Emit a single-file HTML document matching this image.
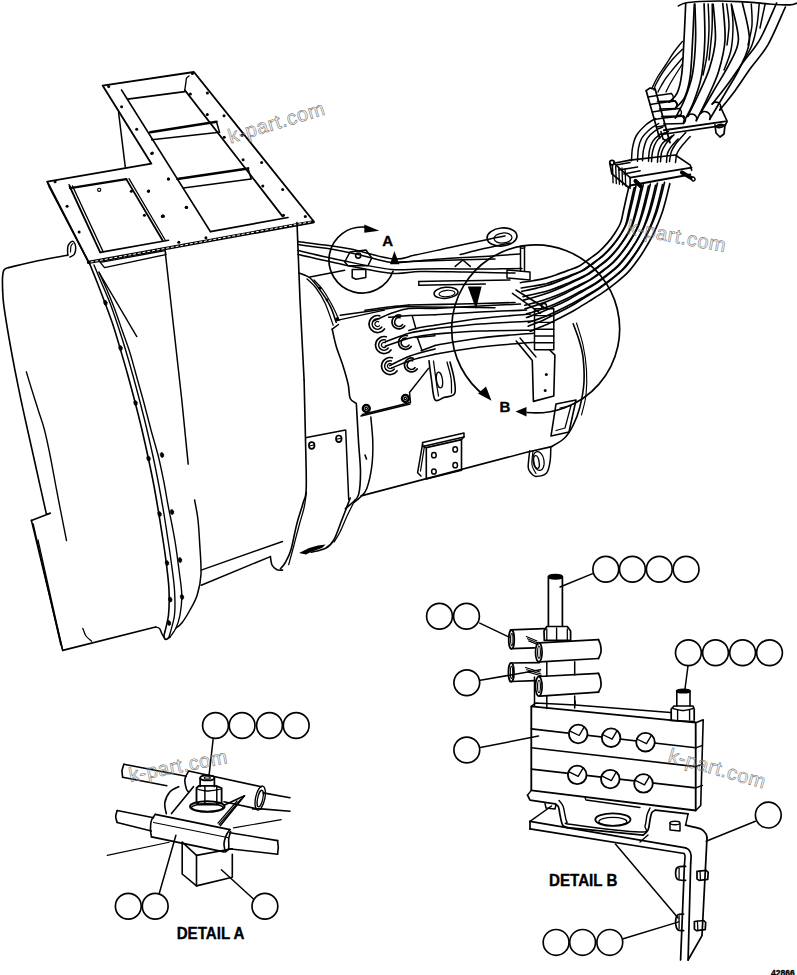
<!DOCTYPE html>
<html><head><meta charset="utf-8"><style>
html,body{margin:0;padding:0;background:#fff;width:797px;height:975px;overflow:hidden}
svg{display:block}
text{font-family:"Liberation Sans",sans-serif;fill:#000;stroke:#000;stroke-width:0.35px}
.wm{fill:none;stroke:#7a7a7a;stroke-width:0.6;font-weight:normal}
</style></head><body>
<svg width="797" height="975" viewBox="0 0 797 975" stroke-linecap="round" stroke-linejoin="round">
<circle cx="605.8" cy="569.3" r="12.9" fill="none" stroke="#000" stroke-width="1.67"/>
<circle cx="632.4" cy="569.3" r="12.9" fill="none" stroke="#000" stroke-width="1.67"/>
<circle cx="659.3" cy="569.3" r="12.9" fill="none" stroke="#000" stroke-width="1.67"/>
<circle cx="686.1" cy="569.3" r="12.9" fill="none" stroke="#000" stroke-width="1.67"/>
<path d="M592.6 573.6 L560 587" fill="none" stroke="#000" stroke-width="1.49"/>
<circle cx="688.4" cy="652.7" r="12.9" fill="none" stroke="#000" stroke-width="1.67"/>
<circle cx="715.5" cy="652.7" r="12.9" fill="none" stroke="#000" stroke-width="1.67"/>
<circle cx="742.6" cy="652.7" r="12.9" fill="none" stroke="#000" stroke-width="1.67"/>
<circle cx="769.5" cy="652.7" r="12.9" fill="none" stroke="#000" stroke-width="1.67"/>
<path d="M688 665.8 L684.8 690.5" fill="none" stroke="#000" stroke-width="1.49"/>
<circle cx="439.5" cy="616.2" r="12.9" fill="none" stroke="#000" stroke-width="1.67"/>
<circle cx="466.5" cy="616.2" r="12.9" fill="none" stroke="#000" stroke-width="1.67"/>
<path d="M479.8 623.1 L509.1 637.2" fill="none" stroke="#000" stroke-width="1.49"/>
<circle cx="466.8" cy="682.7" r="12.9" fill="none" stroke="#000" stroke-width="1.67"/>
<path d="M480.3 680.3 L540.5 669.8" fill="none" stroke="#000" stroke-width="1.49"/>
<circle cx="466.8" cy="750" r="12.9" fill="none" stroke="#000" stroke-width="1.67"/>
<path d="M480.3 747.6 L538.5 736" fill="none" stroke="#000" stroke-width="1.49"/>
<circle cx="768.3" cy="815.1" r="12.9" fill="none" stroke="#000" stroke-width="1.67"/>
<path d="M755.4 821.3 L706.1 841.3" fill="none" stroke="#000" stroke-width="1.49"/>
<circle cx="556.1" cy="942.4" r="12.9" fill="none" stroke="#000" stroke-width="1.67"/>
<circle cx="582.6" cy="942.4" r="12.9" fill="none" stroke="#000" stroke-width="1.67"/>
<circle cx="609.8" cy="942.4" r="12.9" fill="none" stroke="#000" stroke-width="1.67"/>
<path d="M623.2 938.7 L678.7 921.9" fill="none" stroke="#000" stroke-width="1.49"/>
<circle cx="215.5" cy="725.5" r="12.9" fill="none" stroke="#000" stroke-width="1.67"/>
<circle cx="242.1" cy="725.5" r="12.9" fill="none" stroke="#000" stroke-width="1.67"/>
<circle cx="269.5" cy="725.5" r="12.9" fill="none" stroke="#000" stroke-width="1.67"/>
<circle cx="296.2" cy="725.5" r="12.9" fill="none" stroke="#000" stroke-width="1.67"/>
<path d="M213.2 738.6 L209 775.9" fill="none" stroke="#000" stroke-width="1.49"/>
<circle cx="128.3" cy="906.3" r="12.9" fill="none" stroke="#000" stroke-width="1.67"/>
<circle cx="155.2" cy="906.3" r="12.9" fill="none" stroke="#000" stroke-width="1.67"/>
<path d="M159.3 893.2 L175.9 835.2" fill="none" stroke="#000" stroke-width="1.49"/>
<circle cx="264.9" cy="906.3" r="12.9" fill="none" stroke="#000" stroke-width="1.67"/>
<path d="M253.2 898.7 L221.4 869.7" fill="none" stroke="#000" stroke-width="1.49"/>
<text x="176.7" y="938.5" font-size="16" font-weight="bold" text-anchor="start" textLength="67.7" lengthAdjust="spacingAndGlyphs">DETAIL A</text>
<text x="549" y="885.6" font-size="16" font-weight="bold" text-anchor="start" textLength="68.4" lengthAdjust="spacingAndGlyphs">DETAIL B</text>
<text x="771" y="975.6" font-size="8.5" font-weight="bold" text-anchor="start" >42866</text>
<path d="M123.8 764.3 L186.3 776.2" fill="none" stroke="#000" stroke-width="1.61"/>
<path d="M122.6 777.2 L166.8 785.7" fill="none" stroke="#000" stroke-width="1.61"/>
<path d="M123.8 764.3 L121.9 770.7 L122.6 777.2" fill="none" stroke="#000" stroke-width="1.61"/>
<path d="M188.7 771 L261.2 786.7" fill="none" stroke="#000" stroke-width="1.61"/>
<path d="M188.7 771 C188 772.3 185.3 776.1 184.9 779.1 C184.5 782 185.7 786.4 186.3 788.6 C186.9 790.8 188.3 791.6 188.7 792.2" fill="none" stroke="#000" stroke-width="1.61"/>
<ellipse cx="260.2" cy="798.1" rx="4.6" ry="12.3" transform="rotate(12 260.2 798.1)" fill="none" stroke="#000" stroke-width="1.38"/>
<ellipse cx="260.2" cy="798.6" rx="2.6" ry="8.5" transform="rotate(12 260.2 798.6)" fill="none" stroke="#000" stroke-width="1.26"/>
<path d="M224 801.7 L257.3 808.9" fill="none" stroke="#000" stroke-width="1.61"/>
<path d="M263.3 792.9 L290 797.7" fill="none" stroke="#000" stroke-width="1.61"/>
<path d="M261.2 808.9 L290 811.3" fill="none" stroke="#000" stroke-width="1.61"/>
<path d="M252.6 808.9 L261.2 808.9" fill="none" stroke="#000" stroke-width="1.61"/>
<path d="M200.1 778 L200.1 786.5" fill="none" stroke="#000" stroke-width="1.72"/>
<path d="M214.4 778 L214.4 786.5" fill="none" stroke="#000" stroke-width="1.72"/>
<ellipse cx="207.3" cy="777.9" rx="7.1" ry="2.6" transform="rotate(0 207.3 777.9)" fill="none" stroke="#000" stroke-width="1.72"/>
<ellipse cx="207.3" cy="777.9" rx="3" ry="1.2" transform="rotate(0 207.3 777.9)" fill="none" stroke="#000" stroke-width="1.15"/>
<path d="M196.5 788 L199 785.8 L216 785.8 L221.6 788 L221.6 802.5 L216.8 804.5 L199 804.5 L196.5 802.5 L196.5 788" fill="none" stroke="#000" stroke-width="1.84"/>
<path d="M204.9 786.5 L204.9 804" fill="none" stroke="#000" stroke-width="1.49"/>
<path d="M216.8 786.5 L216.8 804" fill="none" stroke="#000" stroke-width="1.49"/>
<path d="M197 789 C198.7 789.3 203 791 207 791 C211 791 218.7 789.3 221 789" fill="none" stroke="#000" stroke-width="1.26"/>
<ellipse cx="207.3" cy="806.5" rx="17.2" ry="5.2" transform="rotate(0 207.3 806.5)" fill="none" stroke="#000" stroke-width="2.07"/>
<ellipse cx="207.3" cy="807.8" rx="15.8" ry="4" transform="rotate(0 207.3 807.8)" fill="none" stroke="#000" stroke-width="1.49"/>
<path d="M193.5 786.7 L171.5 813.6" fill="none" stroke="#000" stroke-width="1.61"/>
<path d="M244.5 795.8 L220.4 825.6" fill="none" stroke="#000" stroke-width="1.61"/>
<path d="M240.7 799.3 L219.2 824.4" fill="none" stroke="#000" stroke-width="1.26"/>
<path d="M237.1 801 L218 823.2" fill="none" stroke="#000" stroke-width="1.26"/>
<path d="M224 805.3 L244.5 795.8" fill="none" stroke="#000" stroke-width="1.61"/>
<path d="M178.7 786.7 C177.2 787.6 171.9 789.5 169.6 792.2 C167.3 794.9 165.4 799.3 164.8 802.9 C164.3 806.5 166 811.9 166.3 813.6" fill="none" stroke="#000" stroke-width="1.61"/>
<path d="M155.3 814.4 L229.9 829.6" fill="none" stroke="#000" stroke-width="1.84"/>
<path d="M151.5 836.8 L224 851.8" fill="none" stroke="#000" stroke-width="1.84"/>
<path d="M153.6 822.5 L227.5 837.5" fill="none" stroke="#000" stroke-width="1.26"/>
<path d="M155.3 814.4 C154.6 815.4 152 818.1 151.3 820.8 C150.5 823.5 150.5 827.7 150.5 830.3 C150.6 833 151.3 835.7 151.5 836.8" fill="none" stroke="#000" stroke-width="1.61"/>
<path d="M229.9 829.6 C229.3 830.5 227.3 832.8 226.3 835.1 C225.4 837.4 224.2 840.7 224 843.4 C223.8 846.2 225 850.4 225.2 851.8" fill="none" stroke="#000" stroke-width="1.61"/>
<path d="M230.6 831.5 C230.3 832.7 229.1 835.9 228.7 838.7 C228.4 841.5 229.2 846 228.7 848.2 C228.2 850.4 226.2 851.2 225.6 851.8" fill="none" stroke="#000" stroke-width="1.61"/>
<path d="M117.2 810.5 L153.6 817.7" fill="none" stroke="#000" stroke-width="1.61"/>
<path d="M117.2 822.5 L151.3 831" fill="none" stroke="#000" stroke-width="1.61"/>
<path d="M117.2 810.5 C116.9 811.6 115.7 814.8 115.7 816.7 C115.7 818.7 116.9 821.5 117.2 822.5" fill="none" stroke="#000" stroke-width="1.61"/>
<path d="M229.9 832.7 L277.6 840.6" fill="none" stroke="#000" stroke-width="1.61"/>
<path d="M228.7 848.7 L277.6 854.2" fill="none" stroke="#000" stroke-width="1.61"/>
<path d="M277.6 840.6 L278.3 847.3 L277.6 854.2" fill="none" stroke="#000" stroke-width="1.61"/>
<path d="M182.2 842.2 L182.2 874 L196.5 885.9 L232.3 877.3 L232.3 854.2" fill="none" stroke="#000" stroke-width="1.61"/>
<path d="M196.5 855.4 L196.5 885.9" fill="none" stroke="#000" stroke-width="1.61"/>
<path d="M182.2 842.2 L196.5 855.4 L232.3 848.7" fill="none" stroke="#000" stroke-width="1.61"/>
<path d="M107.2 855.4 L169.1 842.2" fill="none" stroke="#000" stroke-width="1.15"/>
<path d="M233.5 827.9 L281.2 819.6" fill="none" stroke="#000" stroke-width="1.15"/>
<path d="M88.3 261.5 L47.3 181.7 L151.4 163.7 L102.6 85.6 L193.9 72 L313 220.5" fill="none" stroke="#000" stroke-width="1.84"/>
<path d="M47.3 181.7 L49.2 187 L89.5 264" fill="none" stroke="#000" stroke-width="1.49"/>
<path d="M88.5 262.4 L313.2 221.8" stroke="#000" stroke-width="3.3" fill="none"/>
<path d="M91 262 L311 221.8" stroke="#fff" stroke-width="1.0" stroke-dasharray="2.2 2.6" fill="none"/>
<path d="M100.2 262.4 L165.3 250.6 L165.8 254.6 L104.5 267.6 L100.2 262.4" fill="none" stroke="#000" stroke-width="1.38"/>
<path d="M127.6 99.1 L184.8 91.6" fill="none" stroke="#000" stroke-width="1.72"/>
<path d="M121.6 90.1 L210.4 231.6" fill="none" stroke="#000" stroke-width="1.72"/>
<path d="M184.8 90.1 L282.7 216.6" fill="none" stroke="#000" stroke-width="1.72"/>
<path d="M210.4 231.6 L288 217.5" fill="none" stroke="#000" stroke-width="1.72"/>
<path d="M184.8 90.1 L186.5 78 L189 76" fill="none" stroke="#000" stroke-width="1.38"/>
<path d="M150.2 132.3 L216.5 121.7" fill="none" stroke="#000" stroke-width="2.53"/>
<path d="M151.7 139.8 L219.5 132.3" fill="none" stroke="#000" stroke-width="1.49"/>
<path d="M216.5 121.7 L219.5 132.3" fill="none" stroke="#000" stroke-width="1.49"/>
<path d="M177.3 178.9 L248.1 168.4" fill="none" stroke="#000" stroke-width="2.53"/>
<path d="M183.3 188 L251.1 178.9" fill="none" stroke="#000" stroke-width="1.49"/>
<path d="M248.1 168.4 L251.1 178.9" fill="none" stroke="#000" stroke-width="1.49"/>
<path d="M70.1 188.1 L126.3 179.1" fill="none" stroke="#000" stroke-width="2.30"/>
<path d="M69 184.5 L71 188.5" fill="none" stroke="#000" stroke-width="1.38"/>
<path d="M69.5 186 L100.2 252.4" fill="none" stroke="#000" stroke-width="1.84"/>
<path d="M72.5 186 L103 251.5" fill="none" stroke="#000" stroke-width="1.38"/>
<path d="M126.3 179.1 L162.5 240.3" fill="none" stroke="#000" stroke-width="1.84"/>
<path d="M129 178.6 L165 239.8" fill="none" stroke="#000" stroke-width="1.26"/>
<path d="M100.2 252.4 L168.5 240.3" fill="none" stroke="#000" stroke-width="1.61"/>
<path d="M118.6 112.7 L125.3 167.1" fill="none" stroke="#000" stroke-width="1.49"/>
<circle cx="55.1" cy="181.7" r="1.5" fill="#000"/>
<circle cx="67.1" cy="206.2" r="1.5" fill="#000"/>
<circle cx="79.1" cy="231.9" r="1.5" fill="#000"/>
<circle cx="131.3" cy="191.2" r="1.5" fill="#000"/>
<circle cx="144.4" cy="215.2" r="1.5" fill="#000"/>
<circle cx="148.4" cy="191.2" r="1.5" fill="#000"/>
<circle cx="168.5" cy="179.1" r="1.5" fill="#000"/>
<circle cx="152.4" cy="153" r="1.5" fill="#000"/>
<circle cx="163.5" cy="216.3" r="1.5" fill="#000"/>
<circle cx="186.6" cy="207.2" r="1.5" fill="#000"/>
<circle cx="108.7" cy="86.5" r="1.5" fill="#000"/>
<circle cx="192.4" cy="73.5" r="1.5" fill="#000"/>
<circle cx="121.6" cy="106.7" r="1.5" fill="#000"/>
<circle cx="136.7" cy="129.3" r="1.5" fill="#000"/>
<circle cx="151.7" cy="153.4" r="1.5" fill="#000"/>
<circle cx="207.4" cy="93.1" r="1.5" fill="#000"/>
<circle cx="224" cy="115.7" r="1.5" fill="#000"/>
<circle cx="242.1" cy="135.3" r="1.5" fill="#000"/>
<circle cx="261.6" cy="162.4" r="1.5" fill="#000"/>
<circle cx="282.7" cy="189.5" r="1.5" fill="#000"/>
<circle cx="305.3" cy="216.6" r="1.5" fill="#000"/>
<circle cx="168.3" cy="179" r="1.5" fill="#000"/>
<circle cx="148.7" cy="191" r="1.5" fill="#000"/>
<circle cx="162.3" cy="216.6" r="1.5" fill="#000"/>
<circle cx="186.4" cy="207.5" r="1.5" fill="#000"/>
<circle cx="178.8" cy="242.2" r="1.5" fill="#000"/>
<circle cx="205.9" cy="237.7" r="1.5" fill="#000"/>
<circle cx="190.4" cy="93.9" r="1.5" fill="#000"/>
<circle cx="207.3" cy="114.6" r="1.5" fill="#000"/>
<circle cx="224.2" cy="137.2" r="1.5" fill="#000"/>
<circle cx="243.1" cy="159.8" r="1.5" fill="#000"/>
<circle cx="262.8" cy="186.1" r="1.5" fill="#000"/>
<circle cx="283.5" cy="215.3" r="1.5" fill="#000"/>
<circle cx="162.8" cy="215.8" r="1.5" fill="#000"/>
<circle cx="186.2" cy="207.3" r="1.5" fill="#000"/>
<circle cx="99.2" cy="189.8" r="1.6" fill="none" stroke="#000" stroke-width="1.15"/>
<path d="M165.3 252.7 L181.8 400 L188.2 464.1" fill="none" stroke="#000" stroke-width="1.49"/>
<path d="M297 222.6 L300 300 L304.1 380" fill="none" stroke="#000" stroke-width="1.61"/>
<path d="M67.8 255.1 C61.5 256.3 39.8 260.4 30 262.5 C20.2 264.6 12.5 266.7 9 267.5" fill="none" stroke="#000" stroke-width="1.61"/>
<path d="M9 267.5 C8.2 267.9 5.1 268.2 4 270 C2.9 271.8 2.7 274.7 2.5 278 C2.3 281.3 2.6 288 2.6 290" fill="none" stroke="#000" stroke-width="1.61"/>
<path d="M2.6 290 C2.8 292.6 2.7 297.3 3.8 305.3 C4.9 313.3 7.1 327.1 9 338 C10.9 348.9 13 360.2 15 370.5 C17 380.8 18.9 390.1 21 400 C23.1 409.9 24.9 418 27.6 430 C30.3 442 33.9 458 37 472 C40.1 486 44.8 507.1 46.4 514.1" fill="none" stroke="#000" stroke-width="1.61"/>
<path d="M46.4 514.1 L50.2 513.3" fill="none" stroke="#000" stroke-width="1.38"/>
<path d="M50.2 513.3 L31.4 520.4" fill="none" stroke="#000" stroke-width="1.61"/>
<path d="M67.8 255.1 C67.8 253.6 67.2 248.3 68 246 C68.8 243.7 71.2 241.3 72.5 241.3 C73.8 241.3 75.2 243.9 75.5 246 C75.8 248.1 75.4 252.2 74.5 254 C73.6 255.8 70.8 256.5 70 257" fill="none" stroke="#000" stroke-width="1.49"/>
<path d="M70.5 252 C70.6 251 70.6 247.4 71 246 C71.4 244.6 72.7 243.9 73 243.5" fill="none" stroke="#000" stroke-width="1.15"/>
<path d="M31.4 520.4 L62.7 650.4" fill="none" stroke="#000" stroke-width="1.61"/>
<path d="M33.2 524 L60.8 645" fill="none" stroke="#000" stroke-width="1.26"/>
<path d="M38 540 L62.7 650.4" fill="none" stroke="#000" stroke-width="1.26"/>
<path d="M62.7 650.4 L155.6 627" fill="none" stroke="#000" stroke-width="1.61"/>
<path d="M82.8 628.3 C83.3 629.6 84.5 633.9 86 636 C87.5 638.1 90.7 640.3 91.6 641.2" fill="none" stroke="#000" stroke-width="1.26"/>
<path d="M26.3 371.8 C27.3 375.2 30.5 385.5 32.5 392 C34.5 398.5 36.5 404.7 38.5 411 C40.5 417.3 42.4 421.8 44.5 430 C46.6 438.2 48.7 448.3 51 460 C53.3 471.7 55.9 486.6 58.5 500 C61.1 513.4 65.2 533.8 66.5 540.5" fill="none" stroke="#000" stroke-width="1.38"/>
<path d="M89 262 C90.3 265.3 94.3 275.2 97 282 C99.7 288.8 102.3 295.8 105 303 C107.7 310.2 110.5 317.5 113 325 C115.5 332.5 117.6 339.8 120 348 C122.4 356.2 125.1 365.3 127.5 374 C129.9 382.7 132.1 390.7 134.5 400 C136.9 409.3 139.7 420.2 142 430 C144.3 439.8 146.5 449.7 148.5 459 C150.5 468.3 152.3 477 154 486 C155.7 495 157.2 504 158.7 513 C160.2 522 161.7 531.5 163 540 C164.3 548.5 165.4 555.7 166.4 564 C167.4 572.3 168.7 581.5 169 590 C169.3 598.5 169.4 607.3 168.5 615 C167.6 622.7 164.6 632.5 163.8 636" fill="none" stroke="#000" stroke-width="1.61"/>
<path d="M94 265 C95.3 268.2 99.3 277.7 102 284 C104.7 290.3 107.3 296 110 303 C112.7 310 115.5 318.5 118 326 C120.5 333.5 122.6 340 125 348 C127.4 356 130.1 365.3 132.5 374 C134.9 382.7 137.1 390.7 139.5 400 C141.9 409.3 144.7 420.2 147 430 C149.3 439.8 151.6 449.7 153.6 459 C155.6 468.3 157.3 477 159 486 C160.7 495 162.3 504 163.8 513 C165.3 522 166.7 531.5 168 540 C169.3 548.5 170.4 555.7 171.5 564 C172.6 572.3 174 581.5 174.5 590 C175 598.5 175.4 607.2 174.5 615 C173.6 622.8 169.9 633.3 169 637" fill="none" stroke="#000" stroke-width="1.38"/>
<path d="M99 272 C100.3 275 104.3 283.7 107 290 C109.7 296.3 112.5 303.3 115 310 C117.5 316.7 119.5 322.8 122 330 C124.5 337.2 127.5 345 130 353 C132.5 361 134.7 369.7 137 378 C139.3 386.3 141.7 394.3 144 403 C146.3 411.7 148.7 421.3 151 430 C153.3 438.7 155.9 446.7 158 455 C160.1 463.3 161.8 471.7 163.5 480 C165.2 488.3 166.6 497.5 168 505 C169.4 512.5 170.8 518.6 172 525 C173.2 531.4 174.2 536.1 175.4 543.6 C176.6 551.1 177.9 561.4 179 570 C180.1 578.6 181.6 587.5 181.8 595 C182 602.5 181 609.5 180 615 C179 620.5 177.7 624.3 176 628 C174.3 631.7 171 635.5 170 637" fill="none" stroke="#000" stroke-width="1.38"/>
<path d="M163.8 636 C164.1 636.6 164.5 639.3 165.5 639.5 C166.5 639.7 169.2 637.4 170 637" fill="none" stroke="#000" stroke-width="1.61"/>
<path d="M155.6 627 C156.2 627.2 158.4 627.3 159.5 628.5 C160.6 629.7 161.1 632.2 162 634 C162.9 635.8 164.5 638.2 165 639" fill="none" stroke="#000" stroke-width="1.49"/>
<ellipse cx="105.4" cy="302.8" rx="1.7" ry="2.6" transform="rotate(-15 105.4 302.8)" fill="#000" stroke="#000" stroke-width="0.57"/>
<ellipse cx="120.5" cy="348" rx="1.7" ry="2.6" transform="rotate(-15 120.5 348)" fill="#000" stroke="#000" stroke-width="0.57"/>
<ellipse cx="135.5" cy="403" rx="1.7" ry="2.6" transform="rotate(-15 135.5 403)" fill="#000" stroke="#000" stroke-width="0.57"/>
<ellipse cx="148.5" cy="458.5" rx="1.7" ry="2.6" transform="rotate(-15 148.5 458.5)" fill="#000" stroke="#000" stroke-width="0.57"/>
<ellipse cx="159.5" cy="514" rx="1.7" ry="2.6" transform="rotate(-15 159.5 514)" fill="#000" stroke="#000" stroke-width="0.57"/>
<ellipse cx="167" cy="563" rx="1.7" ry="2.6" transform="rotate(-15 167 563)" fill="#000" stroke="#000" stroke-width="0.57"/>
<ellipse cx="170.2" cy="599.5" rx="1.7" ry="2.6" transform="rotate(-15 170.2 599.5)" fill="#000" stroke="#000" stroke-width="0.57"/>
<ellipse cx="169" cy="623" rx="1.7" ry="2.6" transform="rotate(-15 169 623)" fill="#000" stroke="#000" stroke-width="0.57"/>
<ellipse cx="162" cy="455" rx="1.7" ry="2.6" transform="rotate(-15 162 455)" fill="#000" stroke="#000" stroke-width="0.57"/>
<ellipse cx="172" cy="512" rx="1.7" ry="2.6" transform="rotate(-15 172 512)" fill="#000" stroke="#000" stroke-width="0.57"/>
<ellipse cx="180" cy="560" rx="1.7" ry="2.6" transform="rotate(-15 180 560)" fill="#000" stroke="#000" stroke-width="0.57"/>
<ellipse cx="182" cy="597" rx="1.7" ry="2.6" transform="rotate(-15 182 597)" fill="#000" stroke="#000" stroke-width="0.57"/>
<path d="M99.1 272.7 L136.8 336.6" fill="none" stroke="#000" stroke-width="1.38"/>
<path d="M194.6 500 C195.2 503.3 197.2 512.7 198 520 C198.8 527.3 199.2 534.5 199.7 543.6 C200.2 552.7 201.4 565.8 201 574.4 C200.6 583 199 589.1 197.2 595 C195.4 600.9 192.6 605.3 190 610 C187.4 614.7 184.1 620 181.8 623 C179.5 626 177 627.2 176 628" fill="none" stroke="#000" stroke-width="1.49"/>
<path d="M201.2 570.1 L282.5 541.5" fill="none" stroke="#000" stroke-width="1.49"/>
<path d="M201.2 585.2 L270.4 556.6" fill="none" stroke="#000" stroke-width="1.49"/>
<path d="M304.1 380 C304.3 390 305.1 421.9 305.5 440 C305.9 458.1 306.6 478.2 306.2 488.7 C305.8 499.2 304.7 497.2 303.1 503 C301.6 508.8 298.9 515.7 296.9 523.6 C294.8 531.5 292.8 543.7 290.8 550.3 C288.8 556.9 286.7 559.9 285 563 C283.3 566.1 281.2 567.8 280.5 568.7" fill="none" stroke="#000" stroke-width="1.61"/>
<path d="M270.4 556.6 C270.7 558 270.9 562.8 272 565 C273.1 567.2 275.2 568.9 277 569.8 C278.8 570.6 281.6 570 282.5 570.1" fill="none" stroke="#000" stroke-width="1.61"/>
<path d="M306.5 492 C306.1 494.7 305.2 502.7 304 508 C302.8 513.3 301.2 517.8 299.5 524 C297.8 530.2 295.8 538.2 294 545 C292.2 551.8 289.6 561.3 288.7 564.6" fill="none" stroke="#000" stroke-width="1.26"/>
<path d="M306.6 437.6 L345.7 430.1 L348.7 499.4" fill="none" stroke="#000" stroke-width="1.49"/>
<ellipse cx="311.7" cy="445.5" rx="2.8" ry="3.3" transform="rotate(0 311.7 445.5)" fill="none" stroke="#000" stroke-width="1.72"/>
<ellipse cx="338.8" cy="438.8" rx="2.8" ry="3.3" transform="rotate(0 338.8 438.8)" fill="none" stroke="#000" stroke-width="1.72"/>
<path d="M309.5 446 L314 445" fill="none" stroke="#000" stroke-width="1.15"/>
<path d="M336.6 439.3 L341 438.3" fill="none" stroke="#000" stroke-width="1.15"/>
<path d="M356.4 404.6 C356.8 410.8 357.8 430.2 358.5 441.5 C359.2 452.8 360.5 463.4 360.5 472.3 C360.5 481.2 359.9 489.8 358.5 494.9 C357.1 500 354.2 500.7 352 503 C349.8 505.3 346.4 507.8 345.3 508.8" fill="none" stroke="#000" stroke-width="1.61"/>
<path d="M370.8 416.9 C371.1 421 372.6 433.3 372.8 441.5 C373 449.7 372.8 458.3 371.8 466.2 C370.8 474.1 368.6 483.6 366.7 488.7 C364.8 493.8 362.6 494.6 360.5 496.9 C358.4 499.2 355.1 501.6 354 502.5" fill="none" stroke="#000" stroke-width="1.49"/>
<path d="M350.3 498 C348.9 501.6 344.8 512.5 342 519.5 C339.2 526.5 336.5 535.2 333.8 540 C331.1 544.8 329.4 546.2 325.6 548.2 C321.9 550.2 313.7 551.6 311.3 552.3" fill="none" stroke="#000" stroke-width="1.61"/>
<path d="M355 500 C353.8 502.5 350 509.7 347.5 515 C345 520.3 342.2 527.5 340 532 C337.8 536.5 335 540.3 334 542" fill="none" stroke="#000" stroke-width="1.26"/>
<path d="M365 455 L366.5 459" fill="none" stroke="#000" stroke-width="1.61"/>
<path d="M299 553 L309 548 L318 545.5 L325.6 544.5 L322 548 L312 551.5 L306 554.4 Z" fill="#000"/>
<path d="M361.1 495.9 L526.7 452.3 L551.7 446.6" fill="none" stroke="#000" stroke-width="1.61"/>
<path d="M361 416 L410 404" fill="none" stroke="#000" stroke-width="1.38"/>
<path d="M573.2 323.8 C574.2 326.5 577.4 334.6 579 340 C580.6 345.4 582.1 349.2 582.9 356.2 C583.7 363.2 584.5 373.4 584 382 C583.5 390.6 581.5 400.6 579.7 407.8 C577.9 415 575.7 420.1 573.2 425.1 C570.7 430.1 568.2 434.4 564.6 438 C561 441.6 553.9 445.2 551.7 446.6" fill="none" stroke="#000" stroke-width="1.61"/>
<path d="M576.5 323 C577.6 326.7 581.3 337.2 583 345 C584.7 352.8 586 361.7 586.5 370 C587 378.3 586.8 387.5 586 395 C585.2 402.5 582.2 411.7 581.5 415" fill="none" stroke="#000" stroke-width="1.15"/>
<path d="M529.7 450.8 C529.5 453.6 528 463.6 528.2 467.3 C528.4 471 529.8 471.5 531 473 C532.2 474.5 533.2 476.3 535.7 476.4 C538.2 476.4 543.9 475.7 546.3 473.3 C548.7 470.9 549.2 466.2 550 462 C550.8 457.8 550.7 450.3 550.8 448" fill="none" stroke="#000" stroke-width="1.49"/>
<ellipse cx="536.5" cy="462" rx="2.6" ry="6.5" transform="rotate(-10 536.5 462)" fill="none" stroke="#000" stroke-width="1.38"/>
<ellipse cx="538.5" cy="461" rx="5.5" ry="9.5" transform="rotate(-10 538.5 461)" fill="none" stroke="#000" stroke-width="1.26"/>
<path d="M533 451 C532.8 453.3 531.5 461.2 532 465 C532.5 468.8 535.3 472.1 536 473.5" fill="none" stroke="#000" stroke-width="1.15"/>
<path d="M556 404 L576 400 L569 432 L551 436 L556 404" fill="none" stroke="#000" stroke-width="1.61"/>
<path d="M560 408 L571 405.5 L565 428 L556 430.5" fill="none" stroke="#000" stroke-width="1.26"/>
<path d="M426.3 447.6 L461.5 439.6 L461.5 470.2 L426.3 479 L426.3 447.6" fill="none" stroke="#000" stroke-width="1.61"/>
<path d="M422.6 442.6 L464 433.1 L464 437.1 L422.6 446.4 L422.6 442.6" fill="none" stroke="#000" stroke-width="1.49"/>
<path d="M461.5 439.6 L464 437.1" fill="none" stroke="#000" stroke-width="1.38"/>
<path d="M422.6 446.4 L426.3 447.6" fill="none" stroke="#000" stroke-width="1.38"/>
<path d="M422.6 443.9 L417.6 472.7 L421 476" fill="none" stroke="#000" stroke-width="1.49"/>
<path d="M424.5 446 L420.5 471" fill="none" stroke="#000" stroke-width="1.26"/>
<ellipse cx="433.9" cy="455.2" rx="2.3" ry="2.6" transform="rotate(0 433.9 455.2)" fill="none" stroke="#000" stroke-width="1.49"/>
<ellipse cx="455.2" cy="449.4" rx="2.3" ry="2.6" transform="rotate(0 455.2 449.4)" fill="none" stroke="#000" stroke-width="1.49"/>
<ellipse cx="433.9" cy="471.5" rx="2.3" ry="2.6" transform="rotate(0 433.9 471.5)" fill="none" stroke="#000" stroke-width="1.49"/>
<ellipse cx="455.2" cy="465.2" rx="2.3" ry="2.6" transform="rotate(0 455.2 465.2)" fill="none" stroke="#000" stroke-width="1.49"/>
<path d="M299 273 C300.8 273.8 306.5 275.1 310 278 C313.5 280.9 316.7 285.4 320.1 290.1 C323.5 294.8 327.5 300.8 330.2 306.1 C332.9 311.5 335.2 319.5 336.2 322.2" fill="none" stroke="#000" stroke-width="1.61"/>
<path d="M307 279 C308.5 280.5 313 284 316 288 C319 292 322.1 296.8 325 303 C327.9 309.2 331.8 321.5 333.2 325.2" fill="none" stroke="#000" stroke-width="1.26"/>
<path d="M314 280 C315.5 281.7 320 285.8 323 290 C326 294.2 329.3 300 332 305 C334.7 310 338 317.7 339.2 320.2" fill="none" stroke="#000" stroke-width="1.26"/>
<circle cx="320" cy="288" r="1.6" fill="#000"/>
<circle cx="337.2" cy="319.2" r="2" fill="#000"/>
<circle cx="327" cy="300" r="1.4" fill="#000"/>
<path d="M340.2 315.2 L406.4 306.1" fill="none" stroke="#000" stroke-width="1.49"/>
<path d="M338.2 320.2 L384.4 310.2" fill="none" stroke="#000" stroke-width="1.38"/>
<path d="M332.2 329.2 C332.9 332.1 334.4 340.1 336.2 346.3 C338 352.5 341.2 360 343.2 366.4 C345.2 372.8 347 379 348.2 384.4 C349.4 389.8 348.8 395.3 350.2 398.5 C351.6 401.7 355.3 402.7 356.3 403.5" fill="none" stroke="#000" stroke-width="1.61"/>
<path d="M332.2 329.2 L338.5 324.5" fill="none" stroke="#000" stroke-width="1.49"/>
<path d="M362.3 414.5 L410.5 402.5 L409.5 392.5 L428.5 368.4" fill="none" stroke="#000" stroke-width="1.49"/>
<circle cx="366.3" cy="408.5" r="3.4" fill="none" stroke="#000" stroke-width="2.53"/>
<circle cx="405.4" cy="398.5" r="3.4" fill="none" stroke="#000" stroke-width="2.53"/>
<circle cx="366.3" cy="408.5" r="1.2" fill="none" stroke="#000" stroke-width="1.15"/>
<circle cx="405.4" cy="398.5" r="1.2" fill="none" stroke="#000" stroke-width="1.15"/>
<path d="M379.7 315.8 A8.5 8.5 0 1 0 384.5 328.9" fill="none" stroke="#000" stroke-width="1.7"/>
<path d="M378.9 318.9 A5.27 5.27 0 1 0 381.8 327.0" fill="none" stroke="#000" stroke-width="1.5"/>
<path d="M378.8 321.8 A2.55 2.55 0 1 0 379.5 325.6" fill="none" stroke="#000" stroke-width="1.1"/>
<path d="M400.8 315.2 A7 7 0 1 0 404.7 326.0" fill="none" stroke="#000" stroke-width="1.7"/>
<path d="M400.1 317.8 A4.34 4.34 0 1 0 402.6 324.5" fill="none" stroke="#000" stroke-width="1.5"/>
<path d="M386.2 336.8 A8.5 8.5 0 1 0 391.0 349.9" fill="none" stroke="#000" stroke-width="1.7"/>
<path d="M385.4 339.9 A5.27 5.27 0 1 0 388.3 348.0" fill="none" stroke="#000" stroke-width="1.5"/>
<path d="M385.3 342.8 A2.55 2.55 0 1 0 386.0 346.6" fill="none" stroke="#000" stroke-width="1.1"/>
<path d="M407.3 335.7 A7 7 0 1 0 411.2 346.5" fill="none" stroke="#000" stroke-width="1.7"/>
<path d="M406.6 338.3 A4.34 4.34 0 1 0 409.1 345.0" fill="none" stroke="#000" stroke-width="1.5"/>
<path d="M392.2 357.8 A8.5 8.5 0 1 0 397.0 370.9" fill="none" stroke="#000" stroke-width="1.7"/>
<path d="M391.4 360.9 A5.27 5.27 0 1 0 394.3 369.0" fill="none" stroke="#000" stroke-width="1.5"/>
<path d="M391.3 363.8 A2.55 2.55 0 1 0 392.0 367.6" fill="none" stroke="#000" stroke-width="1.1"/>
<path d="M413.3 358.2 A7 7 0 1 0 417.2 369.0" fill="none" stroke="#000" stroke-width="1.7"/>
<path d="M412.6 360.8 A4.34 4.34 0 1 0 415.1 367.5" fill="none" stroke="#000" stroke-width="1.5"/>
<path d="M365 310.3 C368.3 309.8 377.7 308.4 385 307.5 C392.3 306.6 404.9 305.4 408.9 305" fill="none" stroke="#000" stroke-width="1.61"/>
<path d="M373.8 320.8 C376.8 319.5 386.1 315.1 392 313 C397.9 310.9 401.7 309.2 408.9 308.5 C416.1 307.8 430.6 308.5 435 308.5" fill="none" stroke="#000" stroke-width="1.61"/>
<path d="M388.7 317.3 C392.2 317 402.3 315.9 410 315.5 C417.7 315.1 430.8 314.8 435 314.7" fill="none" stroke="#000" stroke-width="1.61"/>
<path d="M408.9 330.5 C410.8 330 415.6 328.4 420 327.5 C424.4 326.6 432.5 325.6 435 325.2" fill="none" stroke="#000" stroke-width="1.61"/>
<path d="M385.2 341.9 C389.3 340.4 401.7 335.2 410 333 C418.3 330.8 430.8 329.4 435 328.7" fill="none" stroke="#000" stroke-width="1.61"/>
<path d="M385.2 346.3 C389.3 344.9 401.7 340.1 410 338 C418.3 335.9 430.8 334.7 435 334" fill="none" stroke="#000" stroke-width="1.61"/>
<path d="M415.9 337.5 L435 335.7" fill="none" stroke="#000" stroke-width="1.61"/>
<path d="M421.2 350.7 L435 345.4" fill="none" stroke="#000" stroke-width="1.61"/>
<path d="M389.6 365.6 C393 364 402.4 358.8 410 356 C417.6 353.2 430.8 350.1 435 348.9" fill="none" stroke="#000" stroke-width="1.61"/>
<path d="M391.3 368.2 C394.8 366.8 404.7 362.3 412 360 C419.3 357.7 431.2 355.2 435 354.2" fill="none" stroke="#000" stroke-width="1.61"/>
<path d="M412.4 316.4 L415.9 328.7" fill="none" stroke="#000" stroke-width="1.49"/>
<path d="M417.7 338.4 L422.1 350.7" fill="none" stroke="#000" stroke-width="1.49"/>
<path d="M429 360.7 C429.4 363.9 430.5 373.5 431.5 380 C432.5 386.5 432.9 396.9 435 399.8 C437.1 402.7 440.7 398.5 444 397.5 C447.3 396.5 452.9 396.9 454.6 393.7 C456.3 390.4 454.8 383.3 454 378 C453.2 372.7 450.7 364.7 450 362" fill="none" stroke="#000" stroke-width="1.61"/>
<path d="M433.5 361 C433.9 364.2 435.2 374.2 436 380 C436.8 385.8 438.1 393.3 438.5 396" fill="none" stroke="#000" stroke-width="1.26"/>
<path d="M447 362 C447.7 364.7 450.2 372.8 451 378 C451.8 383.2 451.4 390.5 451.5 393" fill="none" stroke="#000" stroke-width="1.26"/>
<ellipse cx="439.5" cy="380" rx="3" ry="8" transform="rotate(-8 439.5 380)" fill="none" stroke="#000" stroke-width="1.26"/>
<ellipse cx="502" cy="237" rx="15" ry="9" transform="rotate(-5 502 237)" fill="none" stroke="#000" stroke-width="1.61"/>
<ellipse cx="503" cy="238" rx="9" ry="5" transform="rotate(-5 503 238)" fill="none" stroke="#000" stroke-width="1.26"/>
<path d="M678.4 5.9 C679.5 5.4 681.7 3.7 685.3 3 C688.9 2.3 694.4 1.8 700 1.5 C705.6 1.2 712.4 1 718.8 1 C725.2 1 732.5 1.3 738.5 1.6 C744.5 1.9 750.1 2.2 755 2.6 C759.9 3 762.2 3.5 768 3.9 C773.8 4.3 784.9 5.1 789.7 4.9 C794.5 4.8 795.8 3.3 797 3" fill="none" stroke="#000" stroke-width="1.61"/>
<path d="M685.7 3.8 C685.4 9.8 684.7 28 684 39.8 C683.3 51.5 682.9 65.5 681.7 74.4 C680.6 83.3 679.2 88.6 677.1 93.2 C675 97.9 670.5 100.7 669.2 102.2" fill="none" stroke="#000" stroke-width="1.67"/>
<path d="M694.3 4.2 C694 10.2 693.3 28.3 692.6 40.2 C691.9 52.1 691.5 66.1 690.3 75.6 C689 85 687.3 91.4 684.9 96.8 C682.5 102.1 677.3 105.9 675.8 107.8" fill="none" stroke="#000" stroke-width="1.67"/>
<path d="M669.2 102.2 A4.3 4.3 0 0 1 675.8 107.8" fill="none" stroke="#000" stroke-width="1.67"/>
<path d="M694.9 4.1 C695 10 696 28.2 695.6 39.8 C695.2 51.5 694.3 64.3 692.5 74.2 C690.7 84.1 687.6 92 684.7 99.3 C681.9 106.6 676.9 114.8 675.4 117.9" fill="none" stroke="#000" stroke-width="1.67"/>
<path d="M704.1 3.9 C704.2 10 705.2 28.2 704.8 40.2 C704.4 52.1 703.4 65.4 701.5 75.8 C699.6 86.2 696.3 95 693.3 102.7 C690.3 110.4 685.2 118.8 683.6 122.1" fill="none" stroke="#000" stroke-width="1.67"/>
<path d="M675.4 117.9 A4.6 4.6 0 0 1 683.6 122.1" fill="none" stroke="#000" stroke-width="1.67"/>
<path d="M713.2 4.3 C713.6 10.2 716 29 715.4 39.7 C714.8 50.4 712.2 59.5 709.4 68.6 C706.6 77.6 702.2 86.1 698.6 94 C695 102 689.5 112.7 687.7 116.4" fill="none" stroke="#000" stroke-width="1.67"/>
<path d="M722.8 3.7 C723.2 9.8 725.7 29 725 40.3 C724.3 51.6 721.5 61.8 718.6 71.4 C715.7 81 711.1 89.8 707.4 98 C703.7 106.2 698.2 116.8 696.3 120.6" fill="none" stroke="#000" stroke-width="1.67"/>
<path d="M687.7 116.4 A4.8 4.8 0 0 1 696.3 120.6" fill="none" stroke="#000" stroke-width="1.67"/>
<path d="M731.6 5 C732.7 10.8 738.7 30.2 738.4 39.8 C738.1 49.4 733.9 54.6 730 62.7 C726.2 70.7 720.2 79.7 715.2 88.2 C710.3 96.7 702.8 109.5 700.3 113.7" fill="none" stroke="#000" stroke-width="1.67"/>
<path d="M742.4 3 C743.6 9.2 749.8 29.5 749.4 40.2 C749 50.9 744.1 58.4 740 67.3 C735.9 76.3 729.8 85.1 724.8 93.8 C719.7 102.4 712.2 115 709.7 119.3" fill="none" stroke="#000" stroke-width="1.67"/>
<path d="M700.3 113.7 A5.5 5.5 0 0 1 709.7 119.3" fill="none" stroke="#000" stroke-width="1.67"/>
<path d="M776.6 3 C773.8 9.1 765.4 29.8 759.8 39.6 C754.2 49.5 748.5 54.6 743.1 62.2 C737.7 69.8 732.3 78.2 727.1 85.1 C722 92.1 714.7 100.9 712.2 104" fill="none" stroke="#000" stroke-width="1.67"/>
<path d="M785.4 7 C782.5 13.2 773.9 34.2 768.2 44.4 C762.4 54.5 756.5 60.1 750.9 67.8 C745.3 75.5 740.1 83.8 734.9 90.9 C729.7 97.9 722.3 106.8 719.8 110" fill="none" stroke="#000" stroke-width="1.67"/>
<path d="M712.2 104.0 A4.8 4.8 0 0 1 719.8 110.0" fill="none" stroke="#000" stroke-width="1.67"/>
<path d="M708.2 4 C708.3 8.3 709.2 21.5 709 30 C708.8 38.5 708 47.5 707 55 C706 62.5 703.7 71.7 703 75" fill="none" stroke="#000" stroke-width="1.49"/>
<path d="M726.7 4 C727.1 7.5 729 18.2 729 25 C729 31.8 727.3 41.7 727 45" fill="none" stroke="#000" stroke-width="1.49"/>
<path d="M731.3 4 C731.6 7.5 733 17.3 733 25 C733 32.7 732.5 42.5 731 50 C729.5 57.5 725.2 66.7 724 70" fill="none" stroke="#000" stroke-width="1.49"/>
<path d="M751.3 4 C751.4 7.5 752.5 18.2 752 25 C751.5 31.8 748.7 41.7 748 45" fill="none" stroke="#000" stroke-width="1.49"/>
<path d="M759.2 4 C758.8 7.5 758.2 18.2 757 25 C755.8 31.8 754.3 38.8 752 45 C749.7 51.2 744.5 59.2 743 62" fill="none" stroke="#000" stroke-width="1.49"/>
<path d="M765.1 4 L760 28" fill="none" stroke="#000" stroke-width="1.49"/>
<path d="M712.2 4 C712.2 8.3 712.5 20.7 712 30 C711.5 39.3 709.5 55 709 60" fill="none" stroke="#000" stroke-width="1.49"/>
<path d="M682.4 41.4 C681 43.2 676.8 48.1 674 52 C671.2 55.9 668.4 60.7 665.6 65 C662.8 69.3 659.3 74 657 78 C654.7 82 652.7 86.9 651.8 88.7" fill="none" stroke="#000" stroke-width="1.38"/>
<path d="M682.4 49.3 C680.7 51.1 675.2 56.2 672 60 C668.8 63.8 665.7 68 663 72 C660.3 76 657.5 81 656 84 C654.5 87 654.3 89 654 90" fill="none" stroke="#000" stroke-width="1.38"/>
<path d="M682.4 58 C681 59.7 676.7 64.7 674 68 C671.3 71.3 668.3 74.7 666 78 C663.7 81.3 661.3 85.7 660 88 C658.7 90.3 658.3 91.3 658 92" fill="none" stroke="#000" stroke-width="1.38"/>
<path d="M682.4 64 C681.3 65.7 678.1 70.7 676 74 C673.9 77.3 671.7 81 670 84 C668.3 87 666.7 90.7 666 92" fill="none" stroke="#000" stroke-width="1.26"/>
<path d="M646.2 90.7 L659.6 138.3" fill="none" stroke="#000" stroke-width="1.72"/>
<path d="M655.2 89.2 L670 142.7" fill="none" stroke="#000" stroke-width="1.72"/>
<path d="M646.2 90.7 L650 88 L655.2 89.2" fill="none" stroke="#000" stroke-width="1.61"/>
<path d="M648 97 L657.4 95.5" fill="none" stroke="#000" stroke-width="1.49"/>
<path d="M657.4 95.5 L671.4 93.5" fill="none" stroke="#000" stroke-width="1.49"/>
<path d="M671.4 93.5 Q675.4 97.5 671.4 101.0" fill="none" stroke="#000" stroke-width="1.4"/>
<path d="M657.4 101.5 L671.4 101" fill="none" stroke="#000" stroke-width="1.38"/>
<path d="M650.1 104.5 L659.4 103" fill="none" stroke="#000" stroke-width="1.49"/>
<path d="M659.4 103 L675.4 101" fill="none" stroke="#000" stroke-width="1.49"/>
<path d="M675.4 101.0 Q679.4 105.0 675.4 108.5" fill="none" stroke="#000" stroke-width="1.4"/>
<path d="M659.4 109 L675.4 108.5" fill="none" stroke="#000" stroke-width="1.38"/>
<path d="M652.2 112 L661.5 110.5" fill="none" stroke="#000" stroke-width="1.49"/>
<path d="M661.5 110.5 L679.5 108.5" fill="none" stroke="#000" stroke-width="1.49"/>
<path d="M679.5 108.5 Q683.5 112.5 679.5 116.0" fill="none" stroke="#000" stroke-width="1.4"/>
<path d="M661.5 116.5 L679.5 116" fill="none" stroke="#000" stroke-width="1.38"/>
<path d="M654.3 119.5 L663.6 118" fill="none" stroke="#000" stroke-width="1.49"/>
<path d="M663.6 118 L683.6 116" fill="none" stroke="#000" stroke-width="1.49"/>
<path d="M683.6 116.0 Q687.6 120.0 683.6 123.5" fill="none" stroke="#000" stroke-width="1.4"/>
<path d="M663.6 124 L683.6 123.5" fill="none" stroke="#000" stroke-width="1.38"/>
<path d="M656.4 127 L665.7 125.5" fill="none" stroke="#000" stroke-width="1.49"/>
<path d="M658.5 134.5 L667.7 133" fill="none" stroke="#000" stroke-width="1.49"/>
<path d="M663.9 130.2 L725.3 121.4" fill="none" stroke="#000" stroke-width="1.95"/>
<path d="M665.1 134 L725.3 125.2" fill="none" stroke="#000" stroke-width="1.72"/>
<path d="M720.3 106.4 L727.2 121.4 L725.3 125.2" fill="none" stroke="#000" stroke-width="1.61"/>
<path d="M715 124.9 L716 133 L720 137 L724 134 L725 125.2" fill="none" stroke="#000" stroke-width="1.72"/>
<ellipse cx="720" cy="126" rx="3.5" ry="1.6" transform="rotate(-10 720 126)" fill="none" stroke="#000" stroke-width="1.49"/>
<path d="M661 131.5 L663 139 L668 141.5 L672 136" fill="none" stroke="#000" stroke-width="1.61"/>
<path d="M637.5 161.2 C637.7 159.1 637.8 152.3 638.4 148.6 C639.1 144.8 639.7 141.8 641.6 138.5 C643.5 135.3 647.1 131.7 650 129.2 C652.8 126.7 657.2 124.5 658.7 123.5" fill="none" stroke="#000" stroke-width="1.49"/>
<path d="M631.5 160.8 C631.7 158.5 631.7 151.7 632.6 147.4 C633.4 143.2 634.2 139.2 636.4 135.5 C638.7 131.7 642.9 127.6 646 124.8 C649.2 121.9 653.8 119.5 655.3 118.5" fill="none" stroke="#000" stroke-width="1.49"/>
<path d="M648.5 161.3 C648.6 159.5 648.8 153.9 649.4 150.6 C650.1 147.3 651 144.1 652.6 141.6 C654.1 139 656.6 136.9 658.7 135.4 C660.8 134 664.1 133.2 665.2 132.8" fill="none" stroke="#000" stroke-width="1.49"/>
<path d="M642.5 160.7 C642.7 158.8 642.7 153.1 643.6 149.4 C644.4 145.7 645.5 141.6 647.4 138.4 C649.4 135.3 652.7 132.4 655.3 130.6 C657.8 128.7 661.6 127.8 662.8 127.2" fill="none" stroke="#000" stroke-width="1.49"/>
<path d="M657.5 162.3 C657.6 160.7 657.7 155.6 658.4 152.7 C659.1 149.7 660.1 146.8 661.5 144.6 C662.9 142.4 665.2 140.7 666.9 139.3 C668.6 138 670.8 137 671.5 136.6" fill="none" stroke="#000" stroke-width="1.49"/>
<path d="M651.5 161.7 C651.7 160 651.8 154.7 652.6 151.3 C653.4 147.9 654.7 144.2 656.5 141.4 C658.2 138.6 661.1 136.3 663.1 134.7 C665.1 133 667.6 132 668.5 131.4" fill="none" stroke="#000" stroke-width="1.49"/>
<path d="M666.5 162.3 C666.6 160.9 666.7 156.3 667.4 153.8 C668.1 151.4 669.2 149.6 670.5 147.6 C671.8 145.7 674 143.4 675.2 142 C676.5 140.6 677.6 139.6 678.1 139.1" fill="none" stroke="#000" stroke-width="1.49"/>
<path d="M660.5 161.7 C660.7 160.1 660.8 155.1 661.6 152.2 C662.4 149.3 664 146.7 665.5 144.4 C667 142 669.4 139.6 670.8 138 C672.2 136.4 673.4 135.4 673.9 134.9" fill="none" stroke="#000" stroke-width="1.49"/>
<path d="M675.5 162.5 C675.7 161.1 676 156.4 676.8 154 C677.7 151.5 679.1 149.7 680.5 147.7 C681.9 145.7 683.6 143.8 685.3 142 C686.9 140.1 689.4 137.4 690.2 136.5" fill="none" stroke="#000" stroke-width="1.49"/>
<path d="M669.5 161.5 C669.8 159.9 670.2 154.9 671.2 152 C672.2 149.2 673.9 146.6 675.5 144.3 C677.1 142 679 140 680.7 138 C682.4 136.1 684.9 133.4 685.8 132.5" fill="none" stroke="#000" stroke-width="1.49"/>
<path d="M610 163.8 L611.9 173.9 L628.9 187.7" fill="none" stroke="#000" stroke-width="1.84"/>
<path d="M613.8 163.2 L630.1 160.1" fill="none" stroke="#000" stroke-width="1.61"/>
<path d="M630.1 160.1 L675.3 155 L690.3 165.1 L691.6 170.1" fill="none" stroke="#000" stroke-width="1.72"/>
<path d="M613.8 163.2 L630.1 177.6" fill="none" stroke="#000" stroke-width="1.49"/>
<path d="M630.1 177.6 L691.6 167.6" fill="none" stroke="#000" stroke-width="1.84"/>
<path d="M630.1 185.5 L690.3 174.5" fill="none" stroke="#000" stroke-width="1.84"/>
<path d="M630.1 177.6 L630.1 188.3" fill="none" stroke="#000" stroke-width="1.61"/>
<path d="M612.5 165.5 L613.1 182.7" fill="none" stroke="#000" stroke-width="1.38"/>
<path d="M615.7 166.3 L616.3 183.5" fill="none" stroke="#000" stroke-width="1.38"/>
<path d="M618.8 167.1 L619.4 184.3" fill="none" stroke="#000" stroke-width="1.38"/>
<path d="M622 167.9 L622.6 185.1" fill="none" stroke="#000" stroke-width="1.38"/>
<path d="M625.1 168.7 L625.7 185.9" fill="none" stroke="#000" stroke-width="1.38"/>
<path d="M616 165.1 L630.1 162.6" fill="none" stroke="#000" stroke-width="1.49"/>
<path d="M618.8 170.1 L637.6 167" fill="none" stroke="#000" stroke-width="1.49"/>
<path d="M623.8 173.9 L640.2 170.7" fill="none" stroke="#000" stroke-width="1.49"/>
<circle cx="612" cy="162.6" r="2.3" fill="none" stroke="#000" stroke-width="1.72"/>
<path d="M635.5 181 L640.5 186" fill="none" stroke="#000" stroke-width="4.14"/>
<path d="M682 172.5 L693 179" fill="none" stroke="#000" stroke-width="4.14"/>
<ellipse cx="693.3" cy="179" rx="1.6" ry="2" transform="rotate(-30 693.3 179)" fill="#fff" stroke="#000" stroke-width="1.38"/>
<path d="M628.9 186.6 C628.5 188.6 627 194.7 626.1 198.8 C625.2 202.9 624.3 207 623.4 211 C622.5 215 622.1 219.1 620.6 222.8 C619.2 226.5 617 229.9 614.8 233.3 C612.7 236.6 610.2 239.9 607.6 242.9 C604.9 246 602.1 248.9 599.1 251.6 C596 254.3 592.6 256.6 589.3 259 C586 261.4 582.9 264 579.4 265.9 C575.8 267.8 571.9 269 568.1 270.4 C564.2 271.9 560.3 273.4 556.5 274.7 C552.6 276.1 548.7 277.4 544.7 278.4 C540.8 279.4 536.8 280 532.7 280.7 C528.6 281.4 522.5 282.3 520.4 282.7" fill="none" stroke="#000" stroke-width="1.67"/>
<path d="M634.2 187.8 C633.7 189.8 632.3 195.9 631.4 200 C630.4 204.1 629.6 208.1 628.6 212.2 C627.7 216.3 627.2 220.7 625.7 224.7 C624.1 228.7 621.7 232.6 619.4 236.2 C617 239.8 614.4 243.2 611.7 246.4 C608.9 249.7 605.8 252.8 602.7 255.6 C599.5 258.5 596 260.9 592.5 263.4 C589 265.9 585.7 268.7 581.9 270.7 C578.2 272.7 574 273.9 570 275.5 C566.1 277 562.2 278.5 558.2 279.8 C554.2 281.2 550.2 282.6 546.1 283.7 C542 284.7 537.8 285.3 533.6 286 C529.5 286.7 523.3 287.7 521.3 288" fill="none" stroke="#000" stroke-width="1.67"/>
<path d="M636 185.7 C635.5 187.9 634 194.4 633 198.7 C632 203 631 207.3 629.9 211.5 C628.9 215.7 628.1 220 626.5 223.9 C624.9 227.8 622.7 231.5 620.4 235.1 C618.1 238.7 615.5 242.2 612.8 245.6 C610.1 248.9 607.3 252.1 604.1 255 C600.9 257.9 597.4 260.4 593.9 263 C590.4 265.6 587.1 268.3 583.3 270.4 C579.6 272.6 575.5 274 571.6 275.7 C567.6 277.5 563.6 279.3 559.5 280.9 C555.5 282.5 551.4 284.1 547.3 285.3 C543.2 286.6 539 287.6 534.8 288.6 C530.5 289.6 524.1 290.9 521.9 291.4" fill="none" stroke="#000" stroke-width="1.67"/>
<path d="M641.3 187 C640.8 189.1 639.3 195.6 638.3 199.9 C637.2 204.2 636.3 208.5 635.2 212.9 C634 217.2 633.2 221.7 631.5 225.9 C629.8 230.1 627.4 234.2 624.9 238 C622.5 241.8 619.9 245.5 617 249 C614.1 252.5 611.1 255.9 607.8 258.9 C604.4 262 600.7 264.6 597.1 267.3 C593.5 270 589.9 272.9 586 275.1 C582.1 277.3 577.8 278.9 573.7 280.7 C569.6 282.5 565.6 284.3 561.5 285.9 C557.4 287.6 553.1 289.2 548.9 290.5 C544.6 291.8 540.3 292.8 536 293.8 C531.7 294.9 525.2 296.2 523.1 296.6" fill="none" stroke="#000" stroke-width="1.67"/>
<path d="M643.2 184.9 C642.6 187.2 641 194 639.9 198.5 C638.8 203 637.8 207.6 636.5 212 C635.2 216.4 634.1 220.8 632.4 225 C630.6 229.2 628.3 233.1 625.9 237 C623.5 240.8 620.9 244.6 618.1 248.2 C615.3 251.7 612.4 255.2 609.1 258.4 C605.9 261.5 602.1 264.2 598.5 267 C594.8 269.8 591.2 272.6 587.3 274.9 C583.4 277.3 579.2 279 575 281.1 C570.9 283.1 566.8 285.2 562.6 287.1 C558.4 288.9 554.1 290.7 549.8 292.3 C545.5 293.8 541.2 295.2 536.8 296.5 C532.4 297.8 525.7 299.5 523.5 300.1" fill="none" stroke="#000" stroke-width="1.67"/>
<path d="M648.4 186.1 C647.9 188.4 646.3 195.3 645.2 199.8 C644.1 204.4 643 208.9 641.7 213.5 C640.4 218 639.2 222.7 637.4 227.1 C635.5 231.5 633 235.7 630.5 239.8 C628 243.9 625.3 247.8 622.4 251.5 C619.4 255.3 616.3 259 612.9 262.3 C609.4 265.6 605.5 268.4 601.7 271.3 C597.9 274.2 594.2 277.1 590.1 279.6 C586.1 282 581.6 283.8 577.4 285.9 C573.2 288 569.1 290.1 564.8 292 C560.5 293.9 556.1 295.7 551.7 297.3 C547.3 299 542.8 300.3 538.4 301.7 C533.9 303 527.1 304.7 524.9 305.3" fill="none" stroke="#000" stroke-width="1.67"/>
<path d="M650.3 184.1 C649.7 186.4 648.1 193.7 646.8 198.4 C645.6 203.1 644.5 207.9 643 212.5 C641.6 217.1 640.2 221.7 638.3 226.1 C636.3 230.5 634 234.7 631.5 238.8 C629 242.9 626.3 247 623.4 250.8 C620.5 254.6 617.6 258.4 614.2 261.7 C610.8 265.1 606.8 268 603 271 C599.2 273.9 595.4 276.9 591.3 279.4 C587.2 282 582.8 284.1 578.6 286.4 C574.3 288.7 570 291.1 565.7 293.2 C561.3 295.3 556.9 297.3 552.4 299.2 C548 301.1 543.5 302.8 538.9 304.4 C534.4 306 527.3 308 525 308.8" fill="none" stroke="#000" stroke-width="1.67"/>
<path d="M655.5 185.3 C655 187.7 653.3 194.9 652.1 199.7 C650.9 204.5 649.7 209.3 648.2 214.1 C646.7 218.9 645.2 223.7 643.2 228.3 C641.2 232.8 638.7 237.3 636.1 241.6 C633.5 245.9 630.7 250 627.7 254 C624.7 258 621.5 262 618 265.6 C614.4 269.1 610.3 272.2 606.4 275.2 C602.4 278.3 598.4 281.4 594.2 284 C590 286.7 585.5 288.8 581.1 291.1 C576.8 293.5 572.5 295.9 568 298.1 C563.6 300.2 559 302.3 554.5 304.2 C549.9 306.1 545.4 307.9 540.7 309.5 C536.1 311.1 529 313.2 526.6 313.9" fill="none" stroke="#000" stroke-width="1.67"/>
<path d="M657.4 183.2 C656.8 185.7 655.1 193.3 653.8 198.3 C652.5 203.2 651.2 208.2 649.6 213 C648 217.8 646.2 222.6 644.1 227.2 C642 231.8 639.6 236.3 637 240.7 C634.4 245 631.6 249.3 628.7 253.4 C625.7 257.5 622.7 261.5 619.2 265.1 C615.7 268.7 611.6 271.8 607.6 275 C603.6 278.1 599.6 281.2 595.3 284 C591.1 286.7 586.5 289.1 582.1 291.7 C577.7 294.3 573.3 297 568.8 299.4 C564.2 301.8 559.6 304 555 306.1 C550.4 308.3 545.8 310.4 541.1 312.3 C536.3 314.2 529 316.6 526.6 317.5" fill="none" stroke="#000" stroke-width="1.67"/>
<path d="M662.6 184.5 C662 187 660.3 194.6 659 199.6 C657.7 204.7 656.4 209.8 654.7 214.7 C653.1 219.7 651.2 224.6 649 229.4 C646.9 234.2 644.3 238.9 641.7 243.4 C639 247.9 636.1 252.3 633 256.6 C629.9 260.8 626.7 265.1 623.1 268.9 C619.4 272.7 615.1 275.9 611 279.2 C606.8 282.5 602.6 285.6 598.3 288.5 C593.9 291.3 589.3 293.8 584.8 296.4 C580.3 299 575.9 301.7 571.3 304.1 C566.7 306.6 562 308.8 557.3 311 C552.6 313.2 547.9 315.4 543.1 317.3 C538.2 319.2 530.8 321.7 528.4 322.5" fill="none" stroke="#000" stroke-width="1.67"/>
<path d="M664.5 182.4 C663.9 185 662.1 193 660.7 198.1 C659.3 203.3 657.9 208.5 656.2 213.5 C654.4 218.5 652.3 223.5 650 228.3 C647.7 233.1 645.2 237.9 642.6 242.5 C639.9 247.1 637 251.7 634 256 C630.9 260.3 627.9 264.7 624.2 268.5 C620.6 272.3 616.4 275.6 612.2 278.9 C608 282.3 603.7 285.4 599.3 288.5 C594.9 291.5 590.2 294.2 585.6 297 C581 299.9 576.5 302.9 571.9 305.5 C567.2 308.2 562.4 310.6 557.6 313 C552.8 315.5 548.1 318 543.2 320.2 C538.3 322.4 530.7 325.2 528.2 326.2" fill="none" stroke="#000" stroke-width="1.67"/>
<path d="M669.8 183.7 C669.1 186.3 667.3 194.3 665.9 199.5 C664.5 204.8 663.1 210.2 661.2 215.3 C659.4 220.5 657.2 225.6 654.9 230.6 C652.6 235.6 650 240.5 647.2 245.2 C644.5 250 641.6 254.6 638.4 259.1 C635.2 263.6 631.9 268.2 628.1 272.2 C624.4 276.2 619.9 279.7 615.6 283.1 C611.3 286.6 606.9 289.8 602.3 292.9 C597.8 296 593.1 298.7 588.5 301.6 C583.8 304.5 579.3 307.5 574.5 310.2 C569.8 312.9 564.9 315.4 560 317.9 C555.2 320.3 550.4 322.9 545.4 325.1 C540.4 327.4 532.7 330.2 530.2 331.2" fill="none" stroke="#000" stroke-width="1.67"/>
<path d="M298 241.6 C302.5 242.2 316.2 243.8 325 245 C333.8 246.2 339.4 246.8 350.7 249.1 C362 251.4 382.2 257.9 392.9 258.9 C403.6 259.9 405.5 257 415 255.1 C424.5 253.2 437.9 250.1 450 247.5 C462.1 244.9 478.6 241.3 487.8 239.4 C497 237.5 502.1 236.6 505 236" fill="none" stroke="#000" stroke-width="1.49"/>
<path d="M298 244.6 C303.5 245.3 320.7 247.3 331 249 C341.3 250.7 349.9 252.7 360 255 C370.1 257.3 382.2 261.6 391.4 262.6 C400.6 263.6 404.4 261.9 415 261.1 C425.6 260.3 441.7 258.9 455 258 C468.3 257.1 484.2 256.4 495 255.7 C505.8 255 515.8 254.3 520 254" fill="none" stroke="#000" stroke-width="1.49"/>
<path d="M298 250.6 C305.8 252.3 329.1 258 344.7 261.1 C360.3 264.2 378.8 268.1 391.4 269.4 C403.9 270.7 408.6 269 420 268.9 C431.4 268.8 447.5 268.9 460 268.9 C472.5 268.9 484.7 269 495 268.9 C505.3 268.8 517.5 268.6 522 268.5" fill="none" stroke="#000" stroke-width="1.49"/>
<path d="M298 254.4 C305.8 256.1 329.1 261.8 344.7 264.9 C360.3 268 378.8 272.1 391.4 273.2 C403.9 274.3 408.6 271.8 420 271.6 C431.4 271.4 447.5 271.8 460 272 C472.5 272.2 485.8 272.5 495 272.7 C504.2 272.9 511.7 272.9 515 273" fill="none" stroke="#000" stroke-width="1.49"/>
<path d="M399 262 C405.8 261.8 424 261 440 260.5 C456 260 485.8 259.2 495 258.9" fill="none" stroke="#000" stroke-width="1.49"/>
<path d="M460.2 254.5 C463.5 253.7 474.2 250.9 480 249.5 C485.8 248.1 490 247.4 495 246.3 C500 245.2 507.5 243.6 510 243" fill="none" stroke="#000" stroke-width="1.49"/>
<path d="M310 277 L344.7 270.2" fill="none" stroke="#000" stroke-width="1.49"/>
<path d="M418.8 281.5 C425.7 281.4 447.3 281 460 280.8 C472.7 280.6 486.7 280.3 495 280.2 C503.3 280.1 507.5 280 510 280" fill="none" stroke="#000" stroke-width="1.49"/>
<path d="M418.8 285.2 L485.3 284" fill="none" stroke="#000" stroke-width="1.49"/>
<path d="M395 306.6 C404.2 306.7 433.3 307 450 307.2 C466.7 307.4 487.5 307.7 495 307.8" fill="none" stroke="#000" stroke-width="1.49"/>
<path d="M418.8 281.5 L418.8 285.2" fill="none" stroke="#000" stroke-width="1.38"/>
<ellipse cx="446" cy="292.8" rx="12" ry="5.5" transform="rotate(-5 446 292.8)" fill="none" stroke="#000" stroke-width="1.49"/>
<ellipse cx="447" cy="293.5" rx="8" ry="3.2" transform="rotate(-5 447 293.5)" fill="none" stroke="#000" stroke-width="1.15"/>
<path d="M455.2 266.4 L462.8 260 L470.3 266.4" fill="none" stroke="#000" stroke-width="1.49"/>
<path d="M467.8 286.5 L481.6 286.5 L476 309 Z" fill="#000"/>
<path d="M352.2 269.4 L365.8 269.4 L365.8 277.5 L356 279.2 L352.2 277.5 L352.2 269.4" fill="none" stroke="#000" stroke-width="1.49"/>
<path d="M344.7 262 L350 252 L366 250 L371.8 258 L368 265.7 L348 265.7 L344.7 262" fill="none" stroke="#000" stroke-width="1.49"/>
<circle cx="358.2" cy="255.6" r="2.6" fill="none" stroke="#000" stroke-width="1.61"/>
<path d="M408.9 305 C417.4 304.8 442.3 304.4 460 304 C477.7 303.6 505.8 302.8 515 302.5" fill="none" stroke="#000" stroke-width="1.55"/>
<path d="M435 308.5 C442.5 308.1 465.8 306.7 480 306 C494.2 305.3 513.8 304.4 520.5 304.1" fill="none" stroke="#000" stroke-width="1.55"/>
<path d="M435 314.7 C442.5 314.2 464.8 312.8 480 312 C495.2 311.2 518.8 310.4 526.5 310.1" fill="none" stroke="#000" stroke-width="1.55"/>
<path d="M435 325.2 C442.5 324.1 464.1 320.4 480 318.5 C495.9 316.6 522.1 314.8 530.5 314.1" fill="none" stroke="#000" stroke-width="1.55"/>
<path d="M435 328.7 C442.5 327.9 463.8 325.3 480 324 C496.2 322.7 523.8 321.6 532.5 321.1" fill="none" stroke="#000" stroke-width="1.55"/>
<path d="M435 334 C442.5 333.5 463.8 331.6 480 331 C496.2 330.4 523.8 330.3 532.5 330.2" fill="none" stroke="#000" stroke-width="1.55"/>
<path d="M435 345.4 C442.5 344.2 463.6 340 480 338 C496.4 336 524.6 334 533.5 333.2" fill="none" stroke="#000" stroke-width="1.55"/>
<path d="M435 354.2 C442.5 353 463.4 349 480 347 C496.6 345 525.4 343 534.5 342.2" fill="none" stroke="#000" stroke-width="1.55"/>
<path d="M534.5 308.8 L553.8 308.8 L553.8 349.7 L534.5 349.7 L534.5 308.8" fill="none" stroke="#000" stroke-width="1.49"/>
<path d="M534.5 315.6 L553.8 315.6" fill="none" stroke="#000" stroke-width="1.38"/>
<path d="M534.5 322.4 L553.8 322.4" fill="none" stroke="#000" stroke-width="1.38"/>
<path d="M534.5 329.2 L553.8 329.2" fill="none" stroke="#000" stroke-width="1.38"/>
<path d="M534.5 336 L553.8 336" fill="none" stroke="#000" stroke-width="1.38"/>
<path d="M534.5 342.8 L553.8 342.8" fill="none" stroke="#000" stroke-width="1.38"/>
<path d="M512.4 293.3 L540.5 313.3" fill="none" stroke="#000" stroke-width="1.49"/>
<path d="M516 290 L545 308" fill="none" stroke="#000" stroke-width="1.49"/>
<circle cx="544" cy="306" r="2.6" fill="none" stroke="#000" stroke-width="1.49"/>
<path d="M520.5 247.1 L520.5 271.2" fill="none" stroke="#000" stroke-width="1.49"/>
<path d="M524.5 247.1 L524.5 271.2" fill="none" stroke="#000" stroke-width="1.49"/>
<ellipse cx="522.5" cy="247" rx="2.2" ry="1.2" transform="rotate(0 522.5 247)" fill="none" stroke="#000" stroke-width="1.38"/>
<path d="M507 270 L530 272 L530 280 L507 278 L507 270" fill="none" stroke="#000" stroke-width="1.49"/>
<path d="M516.2 341.1 L532.3 360.5 L533.4 401.4 L553.8 396 L554.9 355.1 L549.5 349.7" fill="none" stroke="#000" stroke-width="1.61"/>
<path d="M520 338 L536 357" fill="none" stroke="#000" stroke-width="1.38"/>
<circle cx="546.3" cy="374.5" r="1.5" fill="#000"/>
<circle cx="545.2" cy="390.6" r="1.5" fill="#000"/>
<path d="M365.4 227.2 A33 33 0 1 0 393.0 271.3" fill="none" stroke="#000" stroke-width="1.7"/>
<path d="M364.3 224.6 L379.3 230.7 L364.3 232.7 Z" fill="#000"/>
<path d="M394.4 251.1 L399.4 264.2 L390.0 264.2 Z" fill="#000"/>
<text x="382.2" y="245.6" font-size="15" font-weight="bold" text-anchor="start" >A</text>
<path d="M527.0 412.5 A84 84 0 1 0 485.2 396.1" fill="none" stroke="#000" stroke-width="1.7"/>
<path d="M491.5 400.7 L478 393.5 L486 386.5 Z" fill="#000"/>
<path d="M515.5 411.5 L526.5 407 L526.5 416.5 Z" fill="#000"/>
<text x="499.5" y="412" font-size="15" font-weight="bold" text-anchor="start" >B</text>
<path d="M548.4 577 L548.4 626" fill="none" stroke="#000" stroke-width="1.72"/>
<path d="M562.4 577 L562.4 626" fill="none" stroke="#000" stroke-width="1.72"/>
<ellipse cx="555.4" cy="576.8" rx="7" ry="2.2" transform="rotate(0 555.4 576.8)" fill="#000" stroke="#000" stroke-width="1.61"/>
<path d="M544.3 640.4 L544 631 L546.8 626.5 L567.3 626.5 L570.6 631 L570.6 640.4 L544.3 640.4" fill="none" stroke="#000" stroke-width="1.72"/>
<path d="M556.6 628 L556.6 640" fill="none" stroke="#000" stroke-width="1.38"/>
<path d="M546.8 629 L546.8 640" fill="none" stroke="#000" stroke-width="1.26"/>
<path d="M567.3 629 L567.3 640" fill="none" stroke="#000" stroke-width="1.26"/>
<path d="M510.5 629.8 L544.3 628.6" fill="none" stroke="#000" stroke-width="1.72"/>
<path d="M511.5 648.6 L534.5 647.8" fill="none" stroke="#000" stroke-width="1.72"/>
<ellipse cx="511.5" cy="639.6" rx="2.8" ry="9.4" transform="rotate(0 511.5 639.6)" fill="none" stroke="#000" stroke-width="1.72"/>
<ellipse cx="511.8" cy="639.6" rx="1.2" ry="6" transform="rotate(0 511.8 639.6)" fill="none" stroke="#000" stroke-width="1.15"/>
<path d="M539.4 642.9 L598.5 639.6" fill="none" stroke="#000" stroke-width="1.72"/>
<path d="M540.2 661.8 L598.5 658.5" fill="none" stroke="#000" stroke-width="1.72"/>
<path d="M598.5 639.6 C598.8 640.5 600.1 642.9 600.5 645 C600.9 647.1 601.3 649.8 601 652 C600.7 654.2 598.9 657.4 598.5 658.5" fill="none" stroke="#000" stroke-width="1.72"/>
<ellipse cx="538.8" cy="652.2" rx="3.3" ry="9.5" transform="rotate(0 538.8 652.2)" fill="none" stroke="#000" stroke-width="1.72"/>
<ellipse cx="539" cy="652.2" rx="1.4" ry="6" transform="rotate(0 539 652.2)" fill="none" stroke="#000" stroke-width="1.15"/>
<path d="M546.8 661.8 L546.8 676" fill="none" stroke="#000" stroke-width="1.49"/>
<path d="M574.7 661.8 L574.7 675" fill="none" stroke="#000" stroke-width="1.49"/>
<path d="M510.5 663 L539.4 662.6" fill="none" stroke="#000" stroke-width="1.72"/>
<path d="M511.5 681.5 L535.3 680.7" fill="none" stroke="#000" stroke-width="1.72"/>
<ellipse cx="511.2" cy="672.4" rx="2.8" ry="9.4" transform="rotate(0 511.2 672.4)" fill="none" stroke="#000" stroke-width="1.72"/>
<ellipse cx="511.5" cy="672.4" rx="1.2" ry="6" transform="rotate(0 511.5 672.4)" fill="none" stroke="#000" stroke-width="1.15"/>
<path d="M539.4 676.5 L598.5 673.3" fill="none" stroke="#000" stroke-width="1.72"/>
<path d="M540.2 696.2 L598.5 692.1" fill="none" stroke="#000" stroke-width="1.72"/>
<path d="M598.5 673.3 C598.8 674.2 600.1 676.9 600.5 679 C600.9 681.1 601.3 683.8 601 686 C600.7 688.2 598.9 691.1 598.5 692.1" fill="none" stroke="#000" stroke-width="1.72"/>
<ellipse cx="538.8" cy="686.4" rx="3.3" ry="9.8" transform="rotate(0 538.8 686.4)" fill="none" stroke="#000" stroke-width="1.72"/>
<ellipse cx="539" cy="686.4" rx="1.4" ry="6.2" transform="rotate(0 539 686.4)" fill="none" stroke="#000" stroke-width="1.15"/>
<path d="M546.8 696.2 L546.8 708.6" fill="none" stroke="#000" stroke-width="1.49"/>
<path d="M574.7 696 L574.7 708" fill="none" stroke="#000" stroke-width="1.49"/>
<path d="M534.5 677 L534.5 706" fill="none" stroke="#000" stroke-width="1.49"/>
<path d="M526.3 636.5 L537 641" fill="none" stroke="#000" stroke-width="1.15"/>
<path d="M525.4 667.5 L540 672" fill="none" stroke="#000" stroke-width="1.15"/>
<path d="M527.5 638.7 L537.8 643" fill="none" stroke="#000" stroke-width="1.15"/>
<path d="M526.6 669.7 L540.8 674" fill="none" stroke="#000" stroke-width="1.15"/>
<path d="M528.7 640.9 L538.6 645" fill="none" stroke="#000" stroke-width="1.15"/>
<path d="M527.8 671.9 L541.6 676" fill="none" stroke="#000" stroke-width="1.15"/>
<path d="M531.3 706.3 L695.7 722.7 L695.7 810.5 L531.3 790.4 L531.3 706.3" fill="none" stroke="#000" stroke-width="1.84"/>
<path d="M531.3 728.9 L695.7 747.8" fill="none" stroke="#000" stroke-width="1.61"/>
<path d="M531.3 747.8 L695.7 766.6" fill="none" stroke="#000" stroke-width="1.61"/>
<path d="M531.3 769.1 L695.7 787.9" fill="none" stroke="#000" stroke-width="1.61"/>
<path d="M695.7 722.7 L703.2 719.8 L700.7 805.5 L695.7 810.5" fill="none" stroke="#000" stroke-width="1.61"/>
<path d="M695.7 747.8 L702.5 745.3" fill="none" stroke="#000" stroke-width="1.38"/>
<path d="M695.7 766.6 L702.5 764.1" fill="none" stroke="#000" stroke-width="1.38"/>
<path d="M695.7 787.9 L702.5 785.4" fill="none" stroke="#000" stroke-width="1.38"/>
<path d="M531.3 706.3 L535.5 703 L575.2 705 L670.6 712.6" fill="none" stroke="#000" stroke-width="1.49"/>
<path d="M575.2 701 L575.2 705" fill="none" stroke="#000" stroke-width="1.26"/>
<circle cx="578.2" cy="734" r="9.3" fill="#fff" stroke="#000" stroke-width="1.84"/>
<path d="M569.5 730.8 L579.2 735.5 L584.2 726.9" fill="none" stroke="#000" stroke-width="1.38"/>
<circle cx="611.1" cy="737.7" r="9.3" fill="#fff" stroke="#000" stroke-width="1.84"/>
<path d="M602.4 734.5 L612.1 739.2 L617.1 730.6" fill="none" stroke="#000" stroke-width="1.38"/>
<circle cx="645.5" cy="742.2" r="9.3" fill="#fff" stroke="#000" stroke-width="1.84"/>
<path d="M636.8 739 L646.5 743.7 L651.5 735.1" fill="none" stroke="#000" stroke-width="1.38"/>
<circle cx="577.2" cy="774.9" r="9.3" fill="#fff" stroke="#000" stroke-width="1.84"/>
<path d="M568.5 771.7 L578.2 776.4 L583.2 767.8" fill="none" stroke="#000" stroke-width="1.38"/>
<circle cx="610.3" cy="779.1" r="9.3" fill="#fff" stroke="#000" stroke-width="1.84"/>
<path d="M601.6 775.9 L611.3 780.6 L616.3 772" fill="none" stroke="#000" stroke-width="1.38"/>
<circle cx="643.5" cy="783.4" r="9.3" fill="#fff" stroke="#000" stroke-width="1.84"/>
<path d="M634.8 780.2 L644.5 784.9 L649.5 776.3" fill="none" stroke="#000" stroke-width="1.38"/>
<path d="M676.8 691.5 L676.8 706" fill="none" stroke="#000" stroke-width="1.61"/>
<path d="M690 691.5 L690 706" fill="none" stroke="#000" stroke-width="1.61"/>
<ellipse cx="683.4" cy="691" rx="6.8" ry="1.8" transform="rotate(0 683.4 691)" fill="#000" stroke="#000" stroke-width="1.61"/>
<path d="M671.2 720 L671.2 709 L674 706 L693 706 L694.2 709 L694.2 720" fill="none" stroke="#000" stroke-width="1.72"/>
<path d="M673 708.5 C674.7 708.8 679.7 710.5 683 710.5 C686.3 710.5 691.3 708.8 693 708.5" fill="none" stroke="#000" stroke-width="1.38"/>
<path d="M677.6 710 L677.6 720" fill="none" stroke="#000" stroke-width="1.38"/>
<path d="M689.6 710 L689.6 720" fill="none" stroke="#000" stroke-width="1.38"/>
<path d="M670.5 720.5 L694.5 721.5" fill="none" stroke="#000" stroke-width="1.72"/>
<path d="M527.5 795.1 L530 800.1 L555.2 803.8" fill="none" stroke="#000" stroke-width="1.72"/>
<path d="M555.2 803.8 C555.8 804.3 557.7 805.1 558.5 807 C559.3 808.9 559.3 812 560 815 C560.7 818 561.4 823.1 562.7 825.2 C564 827.3 566.9 827.3 567.7 827.7" fill="none" stroke="#000" stroke-width="1.72"/>
<path d="M567.7 827.7 L643 835.2" fill="none" stroke="#000" stroke-width="1.72"/>
<path d="M643 835.2 C643.8 834.4 646.8 832.7 648 830.2 C649.2 827.7 649.4 822.9 650 820 C650.6 817.1 650.9 814.2 651.8 812.6 C652.7 811 654.9 810.5 655.5 810.1" fill="none" stroke="#000" stroke-width="1.72"/>
<path d="M655.5 810.1 L688.1 813.9" fill="none" stroke="#000" stroke-width="1.72"/>
<path d="M527.5 795.1 L531.3 790.4" fill="none" stroke="#000" stroke-width="1.49"/>
<path d="M559 800.5 C559.7 801.4 562 803.6 563 806 C564 808.4 564.3 812.3 565 815 C565.7 817.7 565.8 820.4 567 822 C568.2 823.6 559.8 822.8 572 824.5 C584.2 826.2 627.8 831.8 640 832 C652.2 832.2 643.8 828.8 645 826 C646.2 823.2 646.2 818 647 815 C647.8 812 649.5 809.2 650 808" fill="none" stroke="#000" stroke-width="1.38"/>
<path d="M585 797.5 L586 800 L640 807.5" fill="none" stroke="#000" stroke-width="1.38"/>
<ellipse cx="612.9" cy="819.6" rx="17.6" ry="6.3" transform="rotate(0 612.9 819.6)" fill="none" stroke="#000" stroke-width="1.84"/>
<ellipse cx="612.9" cy="821.5" rx="14" ry="4.2" transform="rotate(0 612.9 821.5)" fill="none" stroke="#000" stroke-width="1.26"/>
<path d="M545 803.5 L546 808 L555 809 L556 804.5" fill="none" stroke="#000" stroke-width="1.49"/>
<path d="M670 823 L670 830 L680 831 L680 824" fill="none" stroke="#000" stroke-width="1.49"/>
<ellipse cx="675" cy="823" rx="5" ry="1.8" transform="rotate(0 675 823)" fill="none" stroke="#000" stroke-width="1.38"/>
<path d="M530 821.4 L530 828.9" fill="none" stroke="#000" stroke-width="1.72"/>
<path d="M530 821.4 L551.5 806" fill="none" stroke="#000" stroke-width="1.49"/>
<path d="M530 821.4 L685.6 847.8" fill="none" stroke="#000" stroke-width="1.72"/>
<path d="M530 828.9 L684 853.5" fill="none" stroke="#000" stroke-width="1.72"/>
<path d="M685.6 847.8 C686.2 848.2 688.1 848.8 689 850 C689.9 851.2 690.7 852.9 691 855 C691.3 857.1 690.8 861.5 690.7 862.8" fill="none" stroke="#000" stroke-width="1.72"/>
<path d="M684 853.5 C684.2 853.9 684.9 854 685 856 C685.1 858 684.5 863.8 684.4 865.3" fill="none" stroke="#000" stroke-width="1.61"/>
<path d="M648 835 L640 842" fill="none" stroke="#000" stroke-width="1.38"/>
<path d="M684.4 865.3 L680.6 960" fill="none" stroke="#000" stroke-width="1.72"/>
<path d="M690.7 862.8 L688.1 960" fill="none" stroke="#000" stroke-width="1.72"/>
<path d="M685.6 825.2 C688.1 825.8 697.3 827.4 700.7 828.9 C704.1 830.4 705 832.5 706 834 C707 835.5 706.8 837.1 707 837.7" fill="none" stroke="#000" stroke-width="1.72"/>
<path d="M707 837.7 L702 935.6 L688.1 960" fill="none" stroke="#000" stroke-width="1.72"/>
<path d="M688.1 813.9 L685.6 825.2" fill="none" stroke="#000" stroke-width="1.49"/>
<path d="M697 871.3 L706.2 870.3 L708.2 872.3 L707.7 879.4 L699 880.4 L697 878.9 L697 871.3" fill="none" stroke="#000" stroke-width="1.72"/>
<path d="M700 870.8 L700.5 880.4" fill="none" stroke="#000" stroke-width="1.26"/>
<path d="M694.4 921.5 L703.7 920.5 L705.7 922.5 L705.2 929.6 L696.4 930.6 L694.4 929.1 L694.4 921.5" fill="none" stroke="#000" stroke-width="1.72"/>
<path d="M697.4 921 L697.9 930.6" fill="none" stroke="#000" stroke-width="1.26"/>
<path d="M685.6 866.3 C684.3 866.5 679.3 866.2 677.6 867.3 C675.9 868.4 675.6 870.8 675.6 872.8 C675.6 874.9 675.9 878.1 677.6 879.4 C679.3 880.7 684.3 880.2 685.6 880.4" fill="none" stroke="#000" stroke-width="1.72"/>
<path d="M679.1 868.3 L679.1 878.4" fill="none" stroke="#000" stroke-width="1.26"/>
<path d="M683.6 914 C682.6 914.2 678.9 913.7 677.6 915 C676.3 916.3 675.6 919.4 675.6 921.8 C675.6 924.2 676.3 928.1 677.6 929.6 C678.9 931.1 682.6 930.4 683.6 930.6" fill="none" stroke="#000" stroke-width="1.72"/>
<path d="M679.1 916 L679.1 928.6" fill="none" stroke="#000" stroke-width="1.26"/>
<path d="M615.4 844 L678.1 918" fill="none" stroke="#000" stroke-width="1.49"/>
<text x="230.5" y="143.5" font-size="20" letter-spacing="0.6" class="wm" transform="rotate(-17 230.5 143.5)">k-part.com</text>
<text x="626.3" y="233.5" font-size="20" letter-spacing="0.6" class="wm" transform="rotate(10.8 626.3 233.5)">k-part.com</text>
<text x="130.2" y="782.2" font-size="20" letter-spacing="0.6" class="wm" transform="rotate(-11 130.2 782.2)">k-part.com</text>
<text x="667.3" y="761.2" font-size="20" letter-spacing="0.6" class="wm" transform="rotate(16 667.3 761.2)">k-part.com</text>
</svg>
</body></html>
